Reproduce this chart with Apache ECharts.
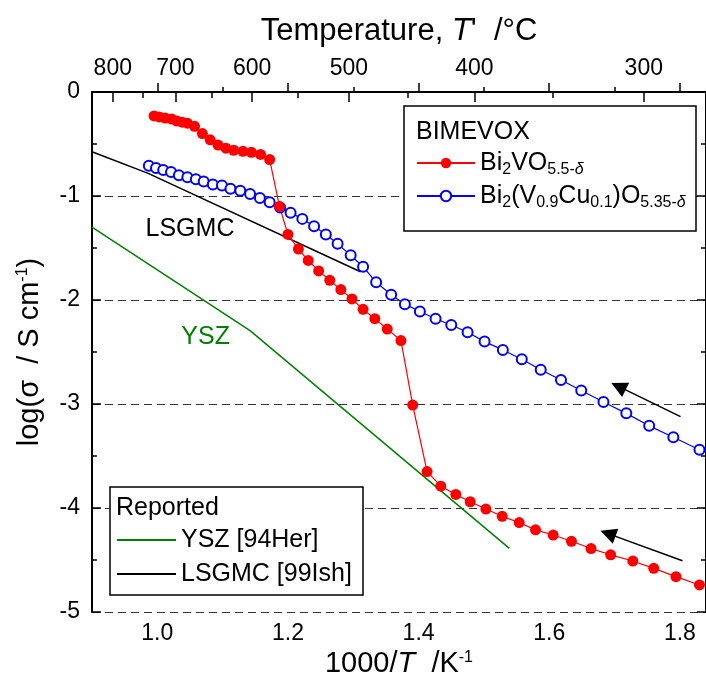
<!DOCTYPE html>
<html>
<head>
<meta charset="utf-8">
<script src="https://cdn.jsdelivr.net/npm/echarts@6/dist/echarts.min.js"></script>
<style>
  html, body { margin: 0; padding: 0; background: #fff; }
  #chart { width: 706px; height: 686px; }
</style>
</head>
<body>
<div id="chart"></div>
<script>
const FONT = '"Liberation Sans", Arial, sans-serif';

// Bi2VO5.5-d (filled red)
const bivoX = [0.995, 1.003, 1.012, 1.022, 1.030, 1.038, 1.046, 1.057, 1.069, 1.081,
  1.093, 1.105, 1.117, 1.131, 1.144, 1.158, 1.172, 1.187, 1.200, 1.216,
  1.231, 1.247, 1.264, 1.281, 1.298, 1.315, 1.333, 1.352, 1.373, 1.391,
  1.413, 1.434, 1.457, 1.479, 1.503, 1.528, 1.554, 1.579, 1.606, 1.634,
  1.664, 1.694, 1.728, 1.760, 1.794, 1.830];
const bivoY = [-0.23, -0.24, -0.25, -0.26, -0.28, -0.29, -0.30, -0.33, -0.40, -0.46,
  -0.51, -0.54, -0.56, -0.57, -0.58, -0.60, -0.65, -1.10, -1.37, -1.51,
  -1.62, -1.72, -1.81, -1.90, -1.99, -2.09, -2.18, -2.28, -2.39, -3.01,
  -3.65, -3.79, -3.87, -3.94, -4.01, -4.08, -4.14, -4.21, -4.26, -4.32,
  -4.39, -4.45, -4.51, -4.58, -4.66, -4.74];

// Bi2(V0.9Cu0.1)O5.35-d (open blue)
const bicuX = [0.987, 0.998, 1.009, 1.021, 1.033, 1.046, 1.059, 1.071, 1.085, 1.099,
  1.112, 1.127, 1.142, 1.157, 1.172, 1.188, 1.204, 1.222, 1.240, 1.258,
  1.276, 1.296, 1.315, 1.335, 1.358, 1.379, 1.402, 1.426, 1.450, 1.475,
  1.501, 1.529, 1.558, 1.587, 1.618, 1.649, 1.683, 1.718, 1.753, 1.790, 1.830];
const bicuY = [-0.71, -0.73, -0.75, -0.77, -0.80, -0.82, -0.84, -0.86, -0.89, -0.90,
  -0.93, -0.95, -0.98, -1.02, -1.06, -1.11, -1.16, -1.22, -1.29, -1.37,
  -1.46, -1.57, -1.68, -1.83, -1.95, -2.04, -2.11, -2.18, -2.24, -2.31,
  -2.40, -2.48, -2.57, -2.67, -2.77, -2.87, -2.98, -3.09, -3.21, -3.32, -3.44];

// reported lines
const yszX = [0.9, 1.142, 1.539];
const yszY = [-1.30, -2.295, -4.388];
const lsgmcX = [0.9, 0.986, 1.311];
const lsgmcY = [-0.574, -0.782, -1.728];

// axes
const xMajor = [1.0, 1.2, 1.4, 1.6, 1.8];
const xMinor = [1.1, 1.3, 1.5, 1.7];
const tempMajor = [800, 700, 600, 500, 400, 300];
const tempMinor = [750, 650, 550, 450, 350];

// annotations (data coords): arrow tail, arrow head
const arrowUpper = [[1.801, -3.122], [1.706, -2.831]];
const arrowLower = [[1.804, -4.507], [1.690, -4.246]];
const lsgmcLabelAt = [1.050, -1.317];
const yszLabelAt = [1.074, -2.361];

const toInvT = t => 1000 / (t + 273.15);
const zip = (xs, ys) => xs.map((x, i) => [x, ys[i]]);

const NAME_BIVO = 'Bi2VO5.5-d';
const NAME_BICU = 'Bi2(V0.9Cu0.1)O5.35-d';
const NAME_YSZ = 'YSZ [94Her]';
const NAME_LSGMC = 'LSGMC [99Ish]';
const legendRich = {
  [NAME_BIVO]: '{n|Bi}{s|2}{n|VO}{s|5.5-}{d|δ}',
  [NAME_BICU]: '{n|Bi}{s|2}{n|(V}{s|0.9}{n|Cu}{s|0.1}{n|)O}{s|5.35-}{d|δ}'
};

const black = '#000';
const axisBase = {
  type: 'value', min: 0.9, max: 1.84,
  splitLine: { show: false }
};

const chart = echarts.init(document.getElementById('chart'));
chart.setOption({
  animation: false,
  textStyle: { fontFamily: FONT },
  grid: { left: 92, right: 0, top: 92, bottom: 74 },
  xAxis: [
    {
      ...axisBase, position: 'bottom',
      name: '1000/{i|T}  /K{sup|-1}', nameLocation: 'middle', nameGap: 33,
      nameTextStyle: {
        fontFamily: FONT, fontSize: 29, color: black,
        rich: {
          i: { fontFamily: FONT, fontSize: 29, fontStyle: 'italic', color: black },
          sup: { fontFamily: FONT, fontSize: 16, color: black, verticalAlign: 'top', lineHeight: 14 }
        }
      },
      axisLine: { show: true, lineStyle: { color: black, width: 2 } },
      axisTick: { show: true, inside: true, length: 9, customValues: xMajor, lineStyle: { color: black, width: 1.5 } },
      axisLabel: { customValues: xMajor, formatter: v => v.toFixed(1), fontSize: 23, color: black, margin: 10, fontFamily: FONT }
    },
    {
      ...axisBase, position: 'bottom',
      axisLine: { show: false },
      axisTick: { show: true, inside: true, length: 5, customValues: xMinor, lineStyle: { color: black, width: 1.5 } },
      axisLabel: { show: false }
    },
    {
      ...axisBase, position: 'top',
      name: 'Temperature, {i|T}\'  /°C', nameLocation: 'middle', nameGap: 45,
      nameTextStyle: {
        fontFamily: FONT, fontSize: 31, color: black,
        rich: { i: { fontFamily: FONT, fontSize: 31, fontStyle: 'italic', color: black } }
      },
      axisLine: { show: true, lineStyle: { color: black, width: 2 } },
      axisTick: { show: true, inside: true, length: 10, customValues: tempMajor.map(toInvT), lineStyle: { color: black, width: 1.5 } },
      axisLabel: {
        customValues: tempMajor.map(toInvT),
        formatter: v => String(Math.round(1000 / v - 273.15)),
        fontSize: 23, color: black, margin: 12, fontFamily: FONT
      }
    },
    {
      ...axisBase, position: 'top',
      axisLine: { show: false },
      axisTick: { show: true, inside: true, length: 6, customValues: tempMinor.map(toInvT), lineStyle: { color: black, width: 1.5 } },
      axisLabel: { show: false }
    }
  ],
  yAxis: [
    {
      type: 'value', position: 'left', min: -5, max: 0, interval: 1,
      name: 'log(σ  / S cm{sup|-1})', nameLocation: 'middle', nameGap: 48,
      nameTextStyle: {
        fontFamily: FONT, fontSize: 29, color: black,
        rich: { sup: { fontFamily: FONT, fontSize: 16, color: black, verticalAlign: 'top', lineHeight: 14 } }
      },
      axisLine: { show: true, lineStyle: { color: black, width: 2 } },
      axisTick: { show: true, inside: true, length: 9, lineStyle: { color: black, width: 1.5 } },
      minorTick: { show: true, splitNumber: 2, length: 5, lineStyle: { color: black, width: 1.5 } },
      axisLabel: { fontSize: 23, color: black, margin: 12, fontFamily: FONT },
      splitLine: { show: true, lineStyle: { color: '#333', width: 1.2, type: [8, 5] } }
    },
    {
      type: 'value', position: 'right', min: -5, max: 0, interval: 1,
      axisLine: { show: true, lineStyle: { color: black, width: 2 } },
      axisTick: { show: true, inside: true, length: 9, lineStyle: { color: black, width: 1.5 } },
      minorTick: { show: true, splitNumber: 2, length: 5, lineStyle: { color: black, width: 1.5 } },
      axisLabel: { show: false },
      splitLine: { show: false }
    }
  ],
  legend: [
    {
      left: 416, top: 148, orient: 'vertical', padding: 0, itemGap: 3,
      itemWidth: 58, itemHeight: 13, selectedMode: false,
      data: [NAME_BIVO, NAME_BICU],
      formatter: name => legendRich[name],
      textStyle: {
        fontFamily: FONT, fontSize: 25, color: black, lineHeight: 30,
        rich: {
          n: { fontFamily: FONT, fontSize: 25, color: black, lineHeight: 30, verticalAlign: 'middle' },
          s: { fontFamily: FONT, fontSize: 16, color: black, lineHeight: 2, verticalAlign: 'bottom' },
          d: { fontFamily: FONT, fontSize: 16, fontStyle: 'italic', color: black, lineHeight: 2, verticalAlign: 'bottom' }
        }
      }
    },
    {
      left: 116, top: 525, orient: 'vertical', padding: 0, itemGap: 4,
      itemWidth: 59, itemHeight: 13, selectedMode: false,
      itemStyle: { opacity: 0 },
      data: [NAME_YSZ, NAME_LSGMC],
      textStyle: { fontFamily: FONT, fontSize: 25, color: black, lineHeight: 30 }
    }
  ],
  graphic: [
    { type: 'rect', z: 3, shape: { x: 404, y: 106, width: 292, height: 125 }, style: { fill: '#fff', stroke: black, lineWidth: 1.5 } },
    { type: 'text', z: 5, x: 416, y: 132, style: { text: 'BIMEVOX', font: '25px ' + FONT, fill: black, verticalAlign: 'middle' } },
    { type: 'rect', z: 3, shape: { x: 110, y: 487, width: 253, height: 108 }, style: { fill: '#fff', stroke: black, lineWidth: 1.5 } },
    { type: 'text', z: 5, x: 116, y: 508, style: { text: 'Reported', font: '25px ' + FONT, fill: black, verticalAlign: 'middle' } }
  ],
  series: [
    {
      name: NAME_YSZ, type: 'line', data: zip(yszX, yszY), symbol: 'none',
      lineStyle: { color: '#008000', width: 1.5 }, itemStyle: { color: '#008000' },
      markPoint: {
        symbol: 'rect', symbolSize: 1, silent: true,
        itemStyle: { color: 'rgba(0,0,0,0)' },
        label: { show: true, position: 'inside', formatter: 'YSZ', fontSize: 25, color: '#008000', fontFamily: FONT },
        data: [{ coord: yszLabelAt }]
      }
    },
    {
      name: NAME_LSGMC, type: 'line', data: zip(lsgmcX, lsgmcY), symbol: 'none',
      lineStyle: { color: black, width: 1.5 }, itemStyle: { color: black },
      markPoint: {
        symbol: 'rect', symbolSize: 1, silent: true,
        itemStyle: { color: 'rgba(0,0,0,0)' },
        label: { show: true, position: 'inside', formatter: 'LSGMC', fontSize: 25, color: black, fontFamily: FONT },
        data: [{ coord: lsgmcLabelAt }]
      },
      markLine: {
        silent: true, symbol: ['none', 'triangle'], symbolSize: 16,
        label: { show: false },
        itemStyle: { color: black },
        lineStyle: { color: black, width: 1.5, type: 'solid' },
        data: [
          [{ coord: arrowUpper[0] }, { coord: arrowUpper[1] }],
          [{ coord: arrowLower[0] }, { coord: arrowLower[1] }]
        ]
      }
    },
    {
      name: NAME_BICU, type: 'line', data: zip(bicuX, bicuY),
      symbol: 'emptyCircle', symbolSize: 10,
      lineStyle: { color: '#0000ff', width: 1.2 },
      itemStyle: { color: '#0000ff', borderColor: '#0000ff', borderWidth: 1.3 }
    },
    {
      name: NAME_BIVO, type: 'line', data: zip(bivoX, bivoY),
      symbol: 'circle', symbolSize: 11,
      lineStyle: { color: '#ff0000', width: 1.2 },
      itemStyle: { color: '#ff0000' }
    }
  ]
});
</script>
</body>
</html>
